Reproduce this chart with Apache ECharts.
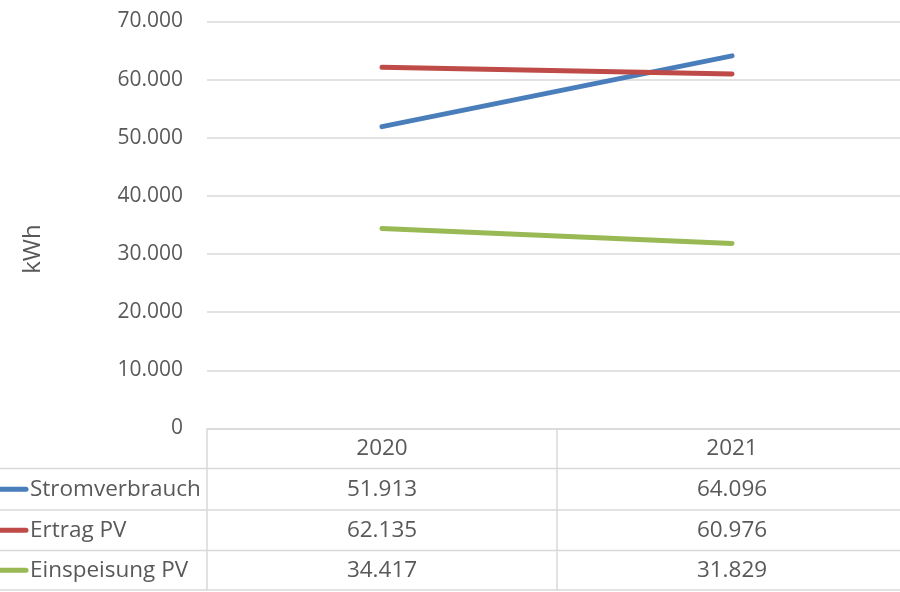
<!DOCTYPE html>
<html>
<head>
<meta charset="utf-8">
<script src="https://cdn.jsdelivr.net/npm/echarts@6/dist/echarts.min.js"></script>
<style>
  html, body { margin: 0; padding: 0; background: #fff; overflow: hidden; }
  #chart { width: 910px; height: 592px; }
</style>
</head>
<body>
<div id="chart"></div>
<script>
// Jahreswerte in kWh
const years = ['2020', '2021'];
const stromverbrauch = [51913, 64096];
const ertragPV = [62135, 60976];
const einspeisungPV = [34417, 31829];

const seriesNames = ['Stromverbrauch', 'Ertrag PV', 'Einspeisung PV'];
const seriesValues = [stromverbrauch, ertragPV, einspeisungPV];
const seriesColors = ['#4a7ebb', '#be4b48', '#98b954'];

const yTicks = { min: 0, max: 70000, interval: 10000 };

const TEXT = '#595959';
const GRID = '#d9d9d9';
const FONT = '"Open Sans", "Noto Sans", sans-serif';
const TABLE_FONT = 22.5;

// German number format: 51.913
function fmt(v) {
  return String(Math.round(v)).replace(/\B(?=(\d{3})+(?!\d))/g, '.');
}

const chart = echarts.init(document.getElementById('chart'), null, { renderer: 'canvas' });

// the last column runs a little past the visible right edge
const grid = { left: 207, top: 21.5, width: 700, height: 407 };

chart.setOption({
  animation: false,
  backgroundColor: '#fff',
  textStyle: { fontFamily: FONT },
  grid: grid,
  xAxis: {
    type: 'category',
    data: years,
    boundaryGap: true,
    axisLine: { show: true, lineStyle: { color: GRID, width: 1.5 } },
    axisTick: { show: false },
    axisLabel: { show: false }
  },
  yAxis: {
    type: 'value',
    min: yTicks.min,
    max: yTicks.max,
    interval: yTicks.interval,
    axisLine: { show: false },
    axisTick: { show: false },
    axisLabel: {
      color: TEXT, fontSize: 21, fontFamily: FONT, margin: 24,
      formatter: fmt
    },
    splitLine: { lineStyle: { color: GRID, width: 1.5 } }
  },
  series: seriesNames.map((name, i) => ({
    name: name,
    type: 'line',
    data: seriesValues[i],
    symbol: 'none',
    lineStyle: { color: seriesColors[i], width: 5, cap: 'round' },
    itemStyle: { color: seriesColors[i] }
  }))
});

// Achsentitel und Datentabelle unter dem Diagramm
function buildTable() {
  const y0 = chart.convertToPixel({ yAxisIndex: 0 }, 0);
  const xs = years.map(y => chart.convertToPixel({ xAxisIndex: 0 }, y));
  const left = grid.left;
  const colW = grid.width / years.length;
  const rowEdges = [y0, 468.5, 510, 550.5, 590];
  const els = [];
  els.push({
    type: 'text', x: 33, y: 249, rotation: Math.PI / 2, silent: true,
    style: {
      text: 'kWh', fill: TEXT, fontSize: 24, fontFamily: FONT,
      align: 'center', verticalAlign: 'middle'
    }
  });
  const line = (x1, y1, x2, y2) => els.push({
    type: 'line', shape: { x1, y1, x2, y2 },
    style: { stroke: GRID, lineWidth: 1.5 }, silent: true
  });
  for (let r = 1; r < rowEdges.length; r++) line(0, rowEdges[r], 910, rowEdges[r]);
  for (let c = 0; c <= years.length; c++) {
    const x = left + c * colW;
    line(x, y0, x, rowEdges[rowEdges.length - 1]);
  }
  const cell = (x, y, text, align) => els.push({
    type: 'text', x, y, silent: true,
    style: {
      text, fill: TEXT, fontSize: TABLE_FONT, fontFamily: FONT,
      align: align || 'center', verticalAlign: 'middle'
    }
  });
  years.forEach((yr, c) => cell(xs[c], (rowEdges[0] + rowEdges[1]) / 2, yr));
  seriesNames.forEach((name, r) => {
    const cy = (rowEdges[r + 1] + rowEdges[r + 2]) / 2;
    els.push({
      type: 'line', shape: { x1: -4, y1: cy, x2: 26, y2: cy },
      style: { stroke: seriesColors[r], lineWidth: 5, lineCap: 'round' }, silent: true
    });
    cell(30, cy, name, 'left');
    seriesValues[r].forEach((v, c) => cell(xs[c], cy, fmt(v)));
  });
  chart.setOption({ graphic: { elements: els } });
}
buildTable();
</script>
</body>
</html>
